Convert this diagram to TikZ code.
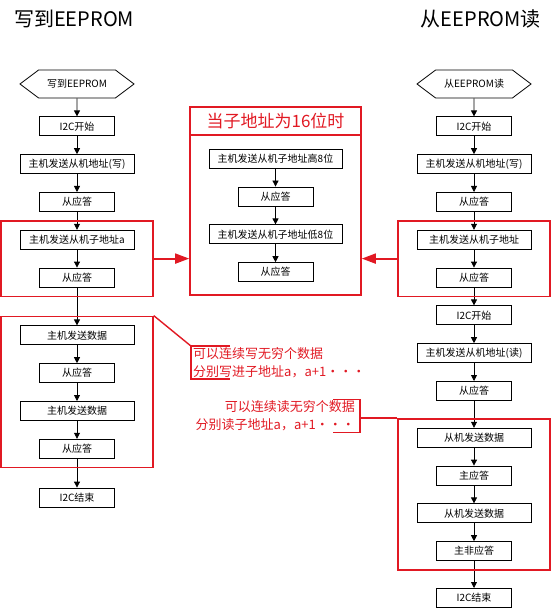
\documentclass[tikz,border=0pt]{standalone}
\usepackage{fontspec}
\setmainfont{Noto Sans CJK SC}
\usetikzlibrary{arrows.meta,positioning,fit,calc,shapes.symbols}
\definecolor{cred}{RGB}{225,25,35}

\begin{document}
\begin{tikzpicture}[
  x=1pt, y=-1pt,
  font=\fontsize{10}{12}\selectfont,
  box/.style={draw, line width=0.8pt, minimum height=19pt, minimum width=75pt, inner sep=1pt},
  wbox/.style={box, minimum width=114pt},
  hexa/.style={draw, line width=0.8pt, shape=signal, signal to=west and east, signal pointer angle=74,
    minimum width=114pt, minimum height=28pt, inner sep=1pt},
  grp/.style={draw=cred, line width=1.6pt},
  ar/.style={-{Triangle[length=6pt,width=6pt]}, line width=0.8pt},
  rar/.style={-{Triangle[length=14pt,width=10pt]}, cred, line width=1.8pt},
  brk/.style={cred, line width=1.4pt},
  note/.style={text=cred, font=\fontsize{13}{18}\selectfont, inner ysep=1pt},
  title/.style={font=\fontsize{20}{24}\selectfont, inner sep=0pt},
]
\useasboundingbox (0,0) rectangle (551,609);

% ---- titles ----
\node[title, anchor=west] (tw) at (14,19) {写到EEPROM};
\node[title, anchor=east] (tr) at (541,19) {从EEPROM读};

% ---- left column: write ----
\node[hexa] (w0) at (77,84) {写到EEPROM};
\node[box, below=18pt of w0] (w1) {I2C开始};
\node[wbox, below=18pt of w1] (w2) {主机发送从机地址(写)};
\node[box, below=18pt of w2] (w3) {从应答};
\node[wbox, below=18pt of w3] (w4) {主机发送从机子地址a};
\node[box, below=18pt of w4] (w5) {从应答};
\node[wbox, below=38pt of w5] (w6) {主机发送数据};
\node[box, below=18pt of w6] (w7) {从应答};
\node[wbox, below=18pt of w7] (w8) {主机发送数据};
\node[box, below=18pt of w8] (w9) {从应答};
\node[box, below=29pt of w9] (w10) {I2C结束};
\draw[ar] (w0) -- (w1);
\draw[ar] (w1) -- (w2);
\draw[ar] (w2) -- (w3);
\draw[ar] (w3) -- (w4);
\draw[ar] (w4) -- (w5);
\draw[ar] (w5) -- (w6);
\draw[ar] (w6) -- (w7);
\draw[ar] (w7) -- (w8);
\draw[ar] (w8) -- (w9);
\draw[ar] (w9) -- (w10);
\node[grp, fit=(w4)(w5), inner xsep=18.5pt, inner ysep=9pt] (g1) {};
\node[grp, fit=(w6)(w9), inner xsep=18.5pt, inner ysep=9pt] (g2) {};

% ---- middle: 16-bit sub-address ----
\node[grp, minimum width=171pt, minimum height=28pt, text=cred, font=\fontsize{17}{20}\selectfont] (mt) at (275.5,121) {当子地址为16位时};
\node[grp, minimum width=171pt, minimum height=188pt, anchor=north] (mid) at (mt.north) {};
\node[box, minimum width=133pt, below=13pt of mt] (m1) {主机发送从机子地址高8位};
\node[box, below=18pt of m1] (m2) {从应答};
\node[box, minimum width=133pt, below=18pt of m2] (m3) {主机发送从机子地址低8位};
\node[box, below=18pt of m3] (m4) {从应答};
\draw[ar] (m1) -- (m2);
\draw[ar] (m2) -- (m3);
\draw[ar] (m3) -- (m4);

% ---- right column: read ----
\node[hexa] (r0) at (474,84) {从EEPROM读};
\node[box, below=18pt of r0] (r1) {I2C开始};
\node[wbox, below=18pt of r1] (r2) {主机发送从机地址(写)};
\node[box, below=18pt of r2] (r3) {从应答};
\node[wbox, below=18pt of r3] (r4) {主机发送从机子地址};
\node[box, below=18pt of r4] (r5) {从应答};
\node[box, below=18pt of r5] (r6) {I2C开始};
\node[wbox, below=18pt of r6] (r7) {主机发送从机地址(读)};
\node[box, below=18pt of r7] (r8) {从应答};
\node[wbox, below=27pt of r8] (r9) {从机发送数据};
\node[box, below=18pt of r9] (r10) {主应答};
\node[wbox, below=18pt of r10] (r11) {从机发送数据};
\node[box, below=18pt of r11] (r12) {主非应答};
\node[box, below=27pt of r12] (r13) {I2C结束};
\draw[ar] (r0) -- (r1);
\draw[ar] (r1) -- (r2);
\draw[ar] (r2) -- (r3);
\draw[ar] (r3) -- (r4);
\draw[ar] (r4) -- (r5);
\draw[ar] (r5) -- (r6);
\draw[ar] (r6) -- (r7);
\draw[ar] (r7) -- (r8);
\draw[ar] (r8) -- (r9);
\draw[ar] (r9) -- (r10);
\draw[ar] (r10) -- (r11);
\draw[ar] (r11) -- (r12);
\draw[ar] (r12) -- (r13);
\node[grp, fit=(r4)(r5), inner xsep=18.5pt, inner ysep=9pt] (g3) {};
\node[grp, fit=(r9)(r12), inner xsep=18.5pt, inner ysep=9pt] (g4) {};

% ---- red links to the middle box ----
\draw[rar] (g1.east) -- (g1.east -| mid.west);
\draw[rar] (g3.west) -- (g3.west -| mid.east);

% ---- notes ----
\node[note, anchor=west, align=left, inner xsep=2pt] (n1) at (191,362.5) {可以连续写无穷个数据\\分别写进子地址a，a+1・・・};
\draw[brk] ($(n1.north west)+(39,0)$) -- (n1.north west) -- (n1.south west) -- +(39,0);
\draw[brk] (g2.north east) -- (n1.north west);
\node[note, anchor=east, align=right, inner xsep=5pt] (n2) at (360,416) {可以连续读无穷个数据\\分别读子地址a，a+1・・・};
\draw[brk] ($(n2.north east)+(-27,0)$) -- (n2.north east) -- (n2.south east) -- +(-27,0);
\draw[brk] (n2.east |- g4.north) -- (g4.north west);
\end{tikzpicture}
\end{document}
